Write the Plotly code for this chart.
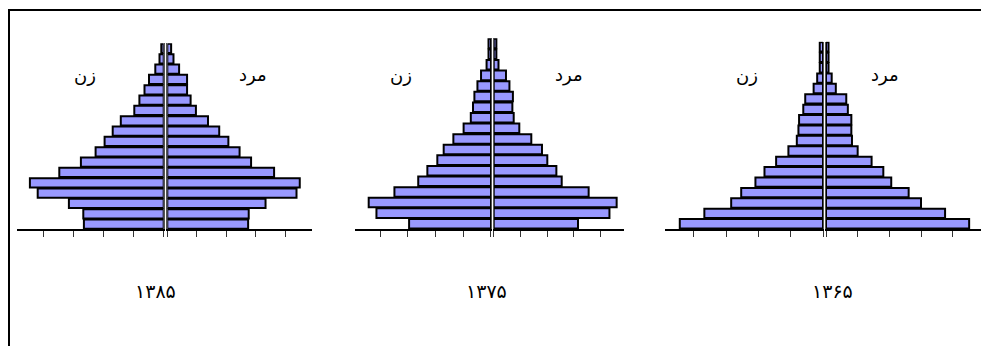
import plotly.graph_objects as go

# age groups, bottom (0-4) to top (85+)
age_groups = ['0-4', '5-9', '10-14', '15-19', '20-24', '25-29', '30-34', '35-39',
              '40-44', '45-49', '50-54', '55-59', '60-64', '65-69', '70-74',
              '75-79', '80-84', '85+']

years = ['۱۳۸۵', '۱۳۷۵', '۱۳۶۵']

female_1385 = [2.66, 2.68, 3.16, 4.20, 4.46, 3.48, 2.76, 2.27, 1.97, 1.70,
               1.43, 0.98, 0.81, 0.64, 0.49, 0.28, 0.14, 0.08]
male_1385 = [2.74, 2.76, 3.33, 4.38, 4.49, 3.62, 2.84, 2.45, 2.07, 1.76,
             1.38, 0.97, 0.79, 0.67, 0.67, 0.40, 0.21, 0.13]

female_1375 = [2.96, 4.14, 4.42, 3.49, 2.63, 2.30, 1.94, 1.71, 1.36, 0.99,
               0.73, 0.65, 0.60, 0.49, 0.36, 0.16, 0.09, 0.09]
male_1375 = [3.16, 4.34, 4.61, 3.56, 2.55, 2.35, 2.01, 1.81, 1.41, 0.96,
             0.75, 0.70, 0.72, 0.59, 0.46, 0.18, 0.10, 0.10]

female_1365 = [4.43, 3.67, 2.84, 2.53, 2.09, 1.81, 1.45, 1.07, 0.81, 0.76,
               0.74, 0.61, 0.55, 0.29, 0.18, 0.10, 0.10, 0.10]
male_1365 = [4.52, 3.76, 3.00, 2.61, 2.06, 1.81, 1.44, 1.00, 0.82, 0.80,
             0.80, 0.69, 0.64, 0.31, 0.18, 0.08, 0.08, 0.08]

female_label = 'زن'
male_label = 'مرد'

W, H = 989, 346
OFF = 8  # page body margin
X_MAX = 4.9
BAR_COLOR = '#9999ff'
FONT = 'DejaVu Sans'


def px(x):
    return (x - OFF) / W


def py(y):
    return 1 - (y - OFF) / H


# panel geometry in screen pixels: left centre, right centre, tick spacing left/right, top, bottom
panels = [
    dict(year=years[0], fem=female_1385, mal=male_1385,
         lc=163.7, rc=167.3, ls=30.0, rs=29.5, top=43.3, bot=229.3,
         fem_x=84.5, mal_x=253, year_x=155),
    dict(year=years[1], fem=female_1375, mal=male_1375,
         lc=491.0, rc=493.7, ls=27.67, rs=26.67, top=38.3, bot=229.0,
         fem_x=401, mal_x=569, year_x=486),
    dict(year=years[2], fem=female_1365, mal=male_1365,
         lc=823.0, rc=826.0, ls=32.33, rs=31.67, top=41.7, bot=229.0,
         fem_x=747, mal_x=885, year_x=832),
]

fig = go.Figure()
layout = {}
annotations = []

for i, p in enumerate(panels):
    for j, side in enumerate(['left', 'right']):
        n = 2 * i + j + 1
        xname = 'x' if n == 1 else f'x{n}'
        yname = 'y' if n == 1 else f'y{n}'
        xkey = 'xaxis' if n == 1 else f'xaxis{n}'
        ykey = 'yaxis' if n == 1 else f'yaxis{n}'
        values = p['fem'] if side == 'left' else p['mal']

        fig.add_trace(go.Bar(
            x=values,
            y=age_groups,
            orientation='h',
            xaxis=xname,
            yaxis=yname,
            marker=dict(color=BAR_COLOR, line=dict(color='black', width=2)),
            showlegend=False,
            hoverinfo='x+y'
        ))

        if side == 'left':
            dom = [px(p['lc'] - X_MAX * p['ls']), px(p['lc'])]
            xrange = [X_MAX, 0]
        else:
            dom = [px(p['rc']), px(p['rc'] + X_MAX * p['rs'])]
            xrange = [0, X_MAX]

        layout[xkey] = dict(
            domain=dom, range=xrange, anchor=yname,
            showline=True, linecolor='black', linewidth=1.5,
            ticks='outside', tickvals=[0, 1, 2, 3, 4], ticklen=6,
            tickcolor='#333', tickwidth=1,
            showticklabels=False, showgrid=False, zeroline=False,
            fixedrange=True
        )
        layout[ykey] = dict(
            domain=[py(p['bot']), py(p['top'])], anchor=xname,
            range=[-0.5, 17.5], side='right' if side == 'left' else 'left',
            showline=True, linecolor='#555', linewidth=1,
            showticklabels=False, ticks='', showgrid=False,
            zeroline=False, fixedrange=True
        )

    for text, xpos, ypos, size in [(female_label, p['fem_x'], 75, 18),
                                   (male_label, p['mal_x'], 75, 18),
                                   (p['year'], p['year_x'], 291, 19)]:
        annotations.append(dict(
            x=px(xpos), y=py(ypos), xref='paper', yref='paper',
            xanchor='center', yanchor='middle',
            text=text, showarrow=False,
            font=dict(family=FONT, size=size, color='black')
        ))

fig.update_layout(
    width=W, height=H,
    margin=dict(l=0, r=0, t=0, b=0),
    paper_bgcolor='white', plot_bgcolor='white',
    bargap=0.1,
    annotations=annotations,
    shapes=[dict(
        type='rect', xref='paper', yref='paper',
        x0=px(9), x1=1.02, y0=-0.02, y1=py(10),
        line=dict(color='black', width=2)
    )],
    **layout
)

fig.write_html("out.html")
